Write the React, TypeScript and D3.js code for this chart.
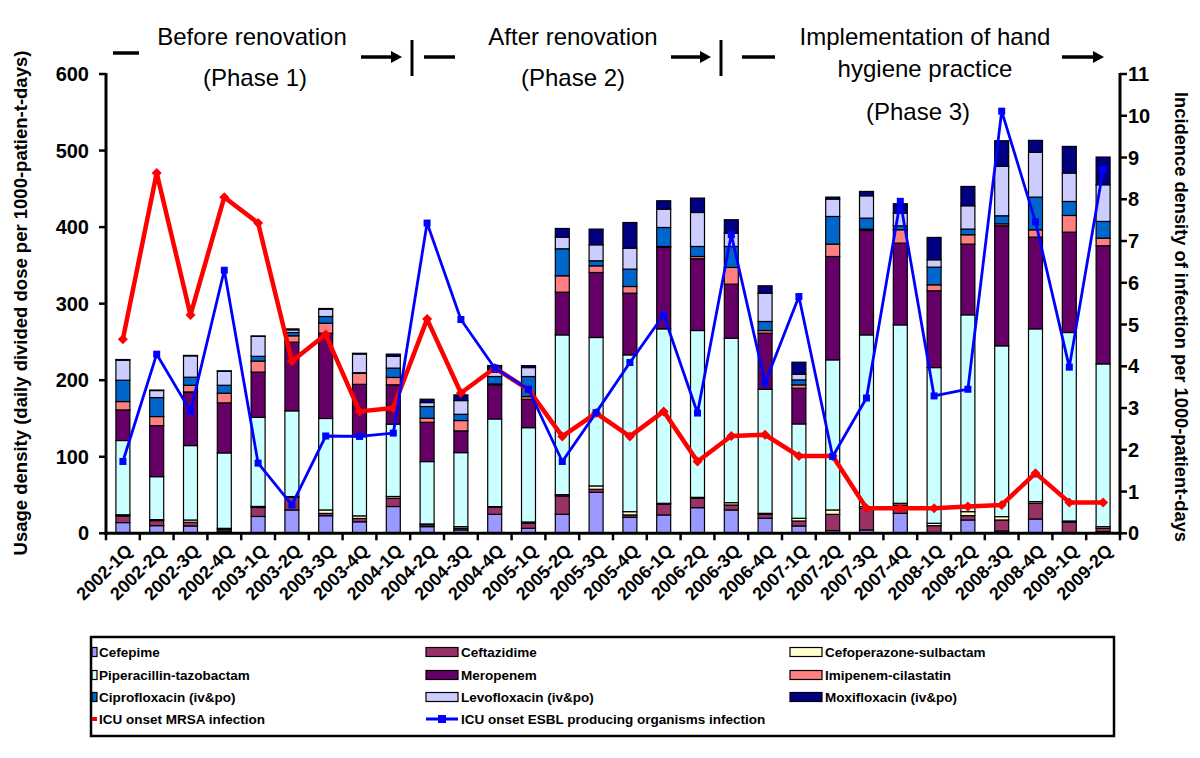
import React from 'react';
import * as d3 from 'd3';

const quarters = ['2002-1Q','2002-2Q','2002-3Q','2002-4Q','2003-1Q','2003-2Q','2003-3Q','2003-4Q','2004-1Q','2004-2Q','2004-3Q','2004-4Q','2005-1Q','2005-2Q','2005-3Q','2005-4Q','2006-1Q','2006-2Q','2006-3Q','2006-4Q','2007-1Q','2007-2Q','2007-3Q','2007-4Q','2008-1Q','2008-2Q','2008-3Q','2008-4Q','2009-1Q','2009-2Q'];

const cefepime = [14,10,9.6,2,22,30.5,23,15,35,8.7,4.4,24.8,6.5,24.8,53.6,20.9,24,33.5,30.5,19.6,9.6,3.5,4.4,26.1,1,17.4,3,18.7,1,2.2];
const ceftazidime = [8.7,6.6,4.8,2.8,11.7,16.5,3,4.4,10.8,2.6,2.1,9.2,6.5,24,3.9,3.1,13.9,12.2,6.5,5.2,6.5,21.3,28.3,10.9,9,5.7,14.4,20.5,13.4,4.3];
const cefoperazone = [1.5,1.3,3,1.7,1.4,1,4.5,3.4,2.3,0.9,2.2,0.9,1.8,1.7,4.4,4.3,1.3,1.3,3,1.3,3.5,5.7,2.2,2.2,3.1,5.2,4.4,2.2,1.7,2.2];
const piperacillin = [97,56.1,97.2,98.5,116.3,112,119.5,103.4,94.5,81.5,96.7,114.5,123.2,208.7,193.9,204.8,227.9,217.9,214.9,162.1,123.3,196.1,224.3,233.1,203.4,257.1,223.1,225.7,246.2,212.6];
const meropenem = [40,66.7,70.1,65.4,59.2,89.7,111.4,68.4,51.4,51.3,28.4,44.5,37,55.8,84.9,80.6,106.3,93.7,70.6,73.2,46.6,135,136.4,106.8,100.3,92.4,156.8,119.8,131.1,154.3];
const imipenem = [10.9,11.8,8.7,12.6,14.4,8.3,13.1,14.3,9.6,5.3,13.5,1.1,3.6,21.4,8.7,8.7,1.3,3,21.8,3.5,4.4,16.2,1.8,17.4,7.8,12.2,2.6,9.6,21.8,10];
const ciprofloxacin = [27.9,24.8,10.5,10.4,6.2,4.3,8.7,0.9,12.2,15.3,8.2,9.8,26.2,35.3,6.6,22.7,24.8,13.1,27.4,11.8,6.5,36.1,14.3,5.2,23.1,7.4,10.5,42.7,18.3,21.8];
const levofloxacin = [26.2,9.2,27.9,18.3,26,3.5,9.6,24.4,15.3,5.2,17.9,5.6,11.7,15.2,20.9,27.4,24,44.4,17.4,37,7.4,22.7,29.2,16.6,9.6,30.5,64.5,58.4,37.1,47.9];
const moxifloxacin = [0.8,0.6,0.6,0.5,0.6,1.2,0.9,1,3,4.4,7.4,8.8,2.5,11.3,20.5,33.5,10.9,18.8,17.5,9.6,15.7,2.6,5.7,12.2,29.2,25.2,33.5,15.7,34.8,36.2];

const mrsa = [4.65,8.63,5.23,8.05,7.43,4.12,4.76,2.92,3.0,5.13,3.36,3.96,3.44,2.32,2.88,2.32,2.92,1.72,2.33,2.36,1.85,1.85,0.6,0.6,0.6,0.64,0.68,1.44,0.74,0.74];
const esbl = [1.72,4.29,2.92,6.3,1.68,0.68,2.33,2.32,2.4,7.43,5.12,3.96,3.45,1.72,2.89,4.09,5.23,2.88,7.15,3.6,5.67,1.84,3.24,7.95,3.29,3.45,10.11,7.46,3.98,8.71];

const leftTicks = [0,100,200,300,400,500,600];
const rightTicks = [0,1,2,3,4,5,6,7,8,9,10,11];

const drugNames = ['Cefepime','Ceftazidime','Cefoperazone-sulbactam','Piperacillin-tazobactam','Meropenem','Imipenem-cilastatin','Ciprofloxacin (iv&po)','Levofloxacin (iv&po)','Moxifloxacin (iv&po)'];
const drugSeries = [cefepime,ceftazidime,cefoperazone,piperacillin,meropenem,imipenem,ciprofloxacin,levofloxacin,moxifloxacin];
const drugColors = ['#9999FF','#993366','#FFFFCC','#CCFFFF','#660066','#FF8080','#0066CC','#CCCCFF','#000080'];
const lineNames = ['ICU onset MRSA infection','ICU onset ESBL producing organisms infection'];

const FONT = '"Liberation Sans", Arial, sans-serif';

export default function App() {
  const L = 106, R = 1120, B = 533.3, T = 74;
  const x = d3.scaleBand<string>().domain(quarters).range([L, R]).paddingInner(0.586).paddingOuter(0.293);
  const y = d3.scaleLinear().domain([0, 600]).range([B, T]);
  const y2 = d3.scaleLinear().domain([0, 11]).range([B, T]);

  const rows = quarters.map((q, i) => {
    const o: any = { q };
    drugNames.forEach((n, k) => { o[n] = drugSeries[k][i]; });
    return o;
  });
  const stack = d3.stack<any>().keys(drugNames)(rows);

  const cx = (i: number) => (x(quarters[i]) as number) + x.bandwidth() / 2;
  const line = d3.line<number>().x((_, i) => cx(i));
  const mrsaPath = line.y((d) => y2(d))(mrsa) as string;
  const esblPath = line.y((d) => y2(d))(esbl) as string;

  const step = x.step();
  const boundaries = d3.range(quarters.length + 1).map((k) => L + k * step);

  const arrow = (x1: number, x2: number, yy: number) => (
    <g>
      <line x1={x1} x2={x2 - 8} y1={yy} y2={yy} stroke="#000" strokeWidth={3.5} />
      <path d={`M${x2},${yy} L${x2 - 11},${yy - 6} L${x2 - 11},${yy + 6} Z`} fill="#000" />
    </g>
  );
  const dash = (x1: number, x2: number, yy: number) => (
    <line x1={x1} x2={x2} y1={yy} y2={yy} stroke="#000" strokeWidth={3.5} />
  );
  const vbar = (xx: number) => <line x1={xx} x2={xx} y1={40} y2={76} stroke="#000" strokeWidth={3} />;

  const hdrStyle: any = { fontFamily: FONT, fontSize: 24, fill: '#000' };

  const legendRows = [652, 675, 697, 719];
  const legendCols = [{ sx: 92, sw: 5, tx: 99 }, { sx: 426, sw: 32, tx: 461 }, { sx: 790, sw: 32, tx: 825 }];
  const legStyle: any = { fontFamily: FONT, fontSize: 13.5, fontWeight: 'bold', fill: '#000' };

  return (
    <div style={{ position: 'absolute', left: 0, top: 0 }}>
      <svg width={1200} height={758} style={{ display: 'block', background: '#fff' }}>
        <rect width={1200} height={758} fill="#fff" />
        {stack.map((s, k) => (
          <g key={k}>
            {s.map((d, i) => (
              <rect key={i} x={x(quarters[i])} width={x.bandwidth()} y={y(d[1])} height={Math.max(0, y(d[0]) - y(d[1]))}
                fill={drugColors[k]} stroke="#000" strokeWidth={1.2} />
            ))}
          </g>
        ))}
        <path d={mrsaPath} fill="none" stroke="#FF0000" strokeWidth={4.5} strokeLinejoin="round" />
        {mrsa.map((v, i) => (
          <path key={i} d={`M${cx(i)},${y2(v) - 5} L${cx(i) + 5},${y2(v)} L${cx(i)},${y2(v) + 5} L${cx(i) - 5},${y2(v)} Z`} fill="#FF0000" />
        ))}
        <path d={esblPath} fill="none" stroke="#0000FF" strokeWidth={2.8} strokeLinejoin="round" />
        {esbl.map((v, i) => (
          <rect key={i} x={cx(i) - 3.5} y={y2(v) - 3.5} width={7} height={7} fill="#0000FF" />
        ))}
        <line x1={L} x2={L} y1={T - 1} y2={B + 1.5} stroke="#000" strokeWidth={3} />
        <line x1={R} x2={R} y1={T - 1} y2={B + 1.5} stroke="#000" strokeWidth={3} />
        <line x1={L - 1.5} x2={R + 1.5} y1={B} y2={B} stroke="#000" strokeWidth={3} />
        {leftTicks.map((t) => (
          <g key={t}>
            <line x1={L - 7} x2={L} y1={y(t)} y2={y(t)} stroke="#000" strokeWidth={2.5} />
            <text x={89} y={y(t)} dy="0.35em" textAnchor="end" style={{ fontFamily: FONT, fontSize: 20, fontWeight: 'bold' }}>{t}</text>
          </g>
        ))}
        {rightTicks.map((t) => (
          <g key={t}>
            <line x1={R} x2={R + 7} y1={y2(t)} y2={y2(t)} stroke="#000" strokeWidth={2.5} />
            <text x={1128} y={y2(t)} dy="0.35em" textAnchor="start" style={{ fontFamily: FONT, fontSize: 20, fontWeight: 'bold' }}>{t}</text>
          </g>
        ))}
        {boundaries.map((bx, k) => (
          <line key={k} x1={bx} x2={bx} y1={B} y2={B + 7} stroke="#000" strokeWidth={2.5} />
        ))}
        {quarters.map((q, i) => (
          <text key={q} transform={`translate(${cx(i) + 6},${B + 14}) rotate(-45)`} textAnchor="end" dy="0.35em"
            style={{ fontFamily: FONT, fontSize: 18, fontWeight: 'bold' }}>{q}</text>
        ))}
        <text transform={`translate(21,303) rotate(-90)`} textAnchor="middle" dy="0.35em"
          style={{ fontFamily: FONT, fontSize: 18.5, fontWeight: 'bold' }}>Usage density (daily divided dose per 1000-patien-t-days)</text>
        <text transform={`translate(1181,317) rotate(90)`} textAnchor="middle" dy="0.35em"
          style={{ fontFamily: FONT, fontSize: 18.3, fontWeight: 'bold' }}>Incidence density of infection per 1000-patient-days</text>
        {dash(113, 139, 53)}
        <text x={252} y={37} dy="0.35em" textAnchor="middle" style={hdrStyle}>Before renovation</text>
        <text x={255} y={78} dy="0.35em" textAnchor="middle" style={hdrStyle}>(Phase 1)</text>
        {arrow(361, 402, 57)}
        {vbar(412)}
        {dash(424, 455, 57)}
        <text x={573} y={37} dy="0.35em" textAnchor="middle" style={hdrStyle}>After renovation</text>
        <text x={573} y={78} dy="0.35em" textAnchor="middle" style={hdrStyle}>(Phase 2)</text>
        {arrow(671, 711, 57)}
        {vbar(721)}
        {dash(742, 775, 57)}
        <text x={925} y={37} dy="0.35em" textAnchor="middle" style={hdrStyle}>Implementation of hand</text>
        <text x={925} y={69} dy="0.35em" textAnchor="middle" style={hdrStyle}>hygiene practice</text>
        <text x={918} y={112} dy="0.35em" textAnchor="middle" style={hdrStyle}>(Phase 3)</text>
        {arrow(1062, 1104, 57)}
        <rect x={91} y={637} width={1023} height={99} fill="#fff" stroke="#000" strokeWidth={2.5} />
        {drugNames.map((n, k) => {
          const r = Math.floor(k / 3), c = k % 3;
          const col = legendCols[c];
          return (
            <g key={n}>
              <rect x={col.sx} y={legendRows[r] - 4.5} width={col.sw} height={9} fill={drugColors[k]} stroke="#000" strokeWidth={1.2} />
              <text x={col.tx} y={legendRows[r]} dy="0.35em" style={legStyle}>{n}</text>
            </g>
          );
        })}
        <rect x={92} y={legendRows[3] - 2} width={5} height={4} fill="#FF0000" />
        <text x={legendCols[0].tx} y={legendRows[3]} dy="0.35em" style={legStyle}>{lineNames[0]}</text>
        <line x1={426} x2={458} y1={legendRows[3]} y2={legendRows[3]} stroke="#0000FF" strokeWidth={3} />
        <rect x={438} y={legendRows[3] - 4} width={8} height={8} fill="#0000FF" />
        <text x={legendCols[1].tx} y={legendRows[3]} dy="0.35em" style={legStyle}>{lineNames[1]}</text>
      </svg>
    </div>
  );
}
